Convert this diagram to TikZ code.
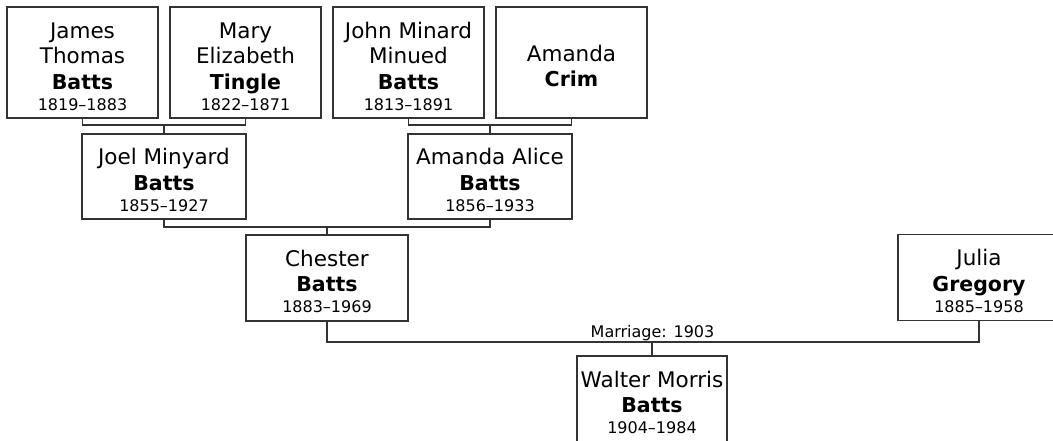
\documentclass[tikz,border=0pt]{standalone}
\usepackage{fontspec}
\setmainfont{DejaVu Sans}
\newcommand\lifespan[1]{\\[-4.5pt]{\fontsize{16}{16}\selectfont #1}}
\newcommand\surname[1]{{\fontsize{20.5}{25.5}\selectfont\bfseries #1}}
\newcommand\topstrut{\rule{0pt}{23.5pt}}
\tikzset{
  person/.style={draw=black!80, line width=1.3pt, fill=white, align=center,
    inner sep=0pt, outer sep=0pt, font=\fontsize{21.5}{25.5}\selectfont},
  toprow/.style={person, minimum width=151pt, minimum height=111pt},
  midrow/.style={person, minimum width=164pt, minimum height=85pt},
  lowrow/.style={person, minimum width=162pt, minimum height=86pt},
  link/.style={draw=black!80, line width=1.3pt}
}
\begin{document}
\begin{tikzpicture}[x=1pt,y=-1pt]
\useasboundingbox (0,0) rectangle (1053,441);
\clip (0,0) rectangle (1053,441);
% generation 1
\node[toprow] (james) at (82.5,62.5) {\topstrut James\\Thomas\\\surname{Batts}\lifespan{1819–1883}};
\node[toprow] (mary) at (245.5,62.5) {\topstrut Mary\\Elizabeth\\\surname{Tingle}\lifespan{1822–1871}};
\node[toprow] (john) at (408.5,62.5) {\topstrut John Minard\\Minued\\\surname{Batts}\lifespan{1813–1891}};
\node[toprow] (crim) at (571.5,62.5) {\topstrut Amanda\\\surname{Crim}};
% generation 2
\node[midrow] (joel) at (164,176.5) {\topstrut Joel Minyard\\\surname{Batts}\lifespan{1855–1927}};
\node[midrow] (alice) at (490,176.5) {\topstrut Amanda Alice\\\surname{Batts}\lifespan{1856–1933}};
% generation 3
\node[lowrow] (chester) at (327,278) {\topstrut Chester\\\surname{Batts}\lifespan{1883–1969}};
\node[lowrow] (julia) at (979,277.5) {\topstrut Julia\\\surname{Gregory}\lifespan{1885–1958}};
% generation 4
\node[person, minimum width=150pt, minimum height=86pt] (walter) at (652,399) {\topstrut Walter Morris\\\surname{Batts}\lifespan{1904–1984}};
% junctions
\coordinate (j1) at (164,125);
\coordinate (j2) at (490,125);
\coordinate (j3) at (327,227);
\coordinate (j4) at (652,342);
% connectors
\draw[link] (james.south) |- (j1) -| (mary.south);
\draw[link] (j1) -- (joel.north);
\draw[link] (john.south) |- (j2) -| (crim.south);
\draw[link] (j2) -- (alice.north);
\draw[link] (joel.south) |- (j3) -| (alice.south);
\draw[link] (j3) -- (chester.north);
\draw[link] (chester.south) |- (j4) -| (julia.south);
\draw[link] (j4) -- (walter.north);
\node[font=\fontsize{16}{16}\selectfont, anchor=base, inner sep=0pt] (marriage) at (652.5,337) {Marriage: 1903};
\end{tikzpicture}
\end{document}
